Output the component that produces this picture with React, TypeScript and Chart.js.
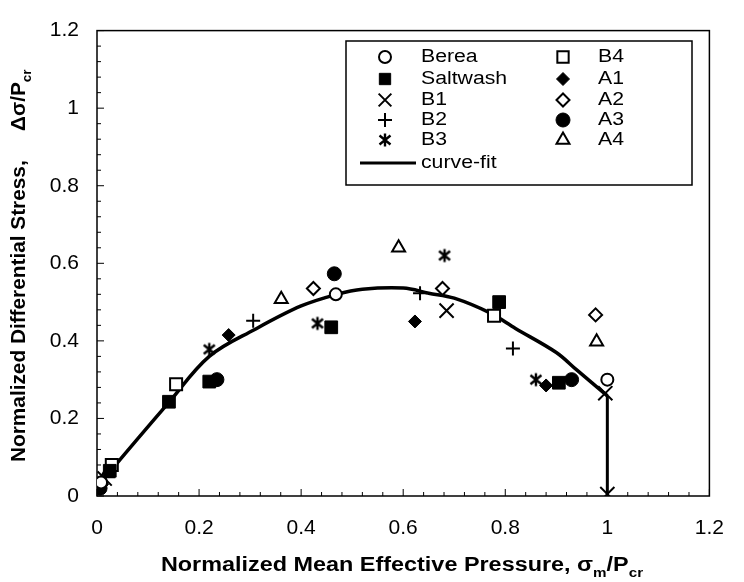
import React, { useEffect, useRef } from 'react';
import { Chart, registerables } from 'chart.js';
import { drawPoint } from 'chart.js/helpers';

Chart.register(...registerables);

type P = { x: number; y: number };

// ---- data ----
const bereaPts: P[] = [{ x: 0.008, y: 0.035 }, { x: 0.468, y: 0.52 }, { x: 1.0, y: 0.30 }];
const saltwashPts: P[] = [{ x: 0.025, y: 0.065 }, { x: 0.141, y: 0.243 }, { x: 0.22, y: 0.295 }, { x: 0.459, y: 0.435 }, { x: 0.788, y: 0.50 }, { x: 0.905, y: 0.292 }];
const b1Pts: P[] = [{ x: 0.015, y: 0.045 }, { x: 0.685, y: 0.478 }, { x: 0.996, y: 0.265 }, { x: 1.0, y: 0.005 }];
const b2Pts: P[] = [{ x: 0.306, y: 0.452 }, { x: 0.633, y: 0.523 }, { x: 0.815, y: 0.38 }];
const b3Pts: P[] = [{ x: 0.005, y: 0.025 }, { x: 0.22, y: 0.378 }, { x: 0.432, y: 0.445 }, { x: 0.681, y: 0.62 }, { x: 0.86, y: 0.30 }];
const b4Pts: P[] = [{ x: 0.029, y: 0.08 }, { x: 0.155, y: 0.288 }, { x: 0.778, y: 0.465 }];
const a1Pts: P[] = [{ x: 0.01, y: 0.03 }, { x: 0.258, y: 0.415 }, { x: 0.623, y: 0.45 }, { x: 0.88, y: 0.285 }];
const a2Pts: P[] = [{ x: 0.424, y: 0.535 }, { x: 0.677, y: 0.535 }, { x: 0.977, y: 0.467 }];
const a3Pts: P[] = [{ x: 0.006, y: 0.02 }, { x: 0.235, y: 0.30 }, { x: 0.465, y: 0.573 }, { x: 0.93, y: 0.30 }];
const a4Pts: P[] = [{ x: 0.02, y: 0.058 }, { x: 0.361, y: 0.507 }, { x: 0.591, y: 0.64 }, { x: 0.979, y: 0.398 }];
const curveFitPts: P[] = [
  { x: 0.0, y: 0.02 }, { x: 0.03, y: 0.07 }, { x: 0.14, y: 0.24 }, { x: 0.22, y: 0.36 },
  { x: 0.31, y: 0.43 }, { x: 0.40, y: 0.49 }, { x: 0.47, y: 0.52 }, { x: 0.52, y: 0.533 },
  { x: 0.60, y: 0.536 }, { x: 0.65, y: 0.523 }, { x: 0.70, y: 0.51 }, { x: 0.77, y: 0.472 },
  { x: 0.82, y: 0.432 }, { x: 0.90, y: 0.37 }, { x: 0.94, y: 0.325 }, { x: 1.0, y: 0.258 },
];
const curveDropPts: P[] = [{ x: 1.0, y: 0.258 }, { x: 1.0, y: 0.0 }];

const xTickLabels = ['0', '0.2', '0.4', '0.6', '0.8', '1', '1.2'];
const yTickLabels = ['0', '0.2', '0.4', '0.6', '0.8', '1', '1.2'];

const FONT = '"Liberation Sans", Arial, Helvetica, sans-serif';

function makeAsterisk(): HTMLCanvasElement {
  const c = document.createElement('canvas');
  c.width = 16;
  c.height = 16;
  const g = c.getContext('2d')!;
  g.strokeStyle = '#000';
  g.lineWidth = 2.4;
  g.beginPath();
  g.moveTo(8, 1.5); g.lineTo(8, 14.5);
  g.moveTo(2.5, 3.5); g.lineTo(13.5, 12.5);
  g.moveTo(13.5, 3.5); g.lineTo(2.5, 12.5);
  g.stroke();
  return c;
}

type Sty = { style: any; radius: number; fill: string; bw: number };

export default function App() {
  const ref = useRef<HTMLCanvasElement | null>(null);

  useEffect(() => {
    const asterisk = makeAsterisk();
    const styles: Record<string, Sty> = {
      Berea: { style: 'circle', radius: 6, fill: '#fff', bw: 2 },
      Saltwash: { style: 'rect', radius: 9, fill: '#000', bw: 1 },
      B1: { style: 'crossRot', radius: 10, fill: '#000', bw: 2 },
      B2: { style: 'cross', radius: 7, fill: '#000', bw: 2 },
      B3: { style: asterisk, radius: 7, fill: '#000', bw: 2 },
      B4: { style: 'rect', radius: 8.5, fill: '#fff', bw: 2 },
      A1: { style: 'rectRot', radius: 6.5, fill: '#000', bw: 1 },
      A2: { style: 'rectRot', radius: 6.5, fill: '#fff', bw: 2 },
      A3: { style: 'circle', radius: 7, fill: '#000', bw: 1 },
      A4: { style: 'triangle', radius: 7.5, fill: '#fff', bw: 2 },
    };
    const series: [string, P[]][] = [
      ['Berea', bereaPts], ['Saltwash', saltwashPts], ['B1', b1Pts], ['B2', b2Pts], ['B3', b3Pts],
      ['B4', b4Pts], ['A1', a1Pts], ['A2', a2Pts], ['A3', a3Pts], ['A4', a4Pts],
    ];

    const datasets: any[] = series.map(([name, pts], i) => ({
      type: 'scatter',
      label: name,
      data: pts,
      pointStyle: styles[name].style,
      pointRadius: styles[name].radius,
      pointBackgroundColor: styles[name].fill,
      pointBorderColor: '#000',
      pointBorderWidth: styles[name].bw,
      showLine: false,
      order: i + 1,
    }));
    datasets.push({
      type: 'line', label: 'curve-fit', data: curveFitPts, borderColor: '#000', borderWidth: 3.5,
      pointRadius: 0, tension: 0.35, fill: false, order: 100,
    });
    datasets.push({
      type: 'line', label: 'curve-fit-drop', data: curveDropPts, borderColor: '#000', borderWidth: 3,
      pointRadius: 0, tension: 0, fill: false, order: 101,
    });

    const drawSubText = (ctx: CanvasRenderingContext2D, parts: [string, boolean][], x: number, y: number, size: number, bold: boolean, align: 'center' | 'left', sx: number) => {
      const main = `${bold ? 'bold ' : ''}${size}px ${FONT}`;
      const sub = `${bold ? 'bold ' : ''}${Math.round(size * 0.65)}px ${FONT}`;
      let total = 0;
      for (const [t, s] of parts) { ctx.font = s ? sub : main; total += ctx.measureText(t).width * sx; }
      let cx = align === 'center' ? x - total / 2 : x;
      ctx.textBaseline = 'alphabetic';
      ctx.textAlign = 'left';
      for (const [t, s] of parts) {
        ctx.font = s ? sub : main;
        ctx.save();
        ctx.translate(cx, y + (s ? size * 0.28 : 0));
        ctx.scale(sx, 1);
        ctx.fillText(t, 0, 0);
        ctx.restore();
        cx += ctx.measureText(t).width * sx;
      }
    };

    const legendText = (ctx: CanvasRenderingContext2D, t: string, x: number, y: number) => {
      ctx.save();
      ctx.fillStyle = '#000';
      ctx.font = `18px ${FONT}`;
      ctx.textAlign = 'left';
      ctx.textBaseline = 'middle';
      ctx.translate(x, y);
      ctx.scale(1.18, 1);
      ctx.fillText(t, 0, 0);
      ctx.restore();
    };

    const decor = {
      id: 'decor',
      beforeDatasetsDraw(chart: any) {
        const { ctx, chartArea: a, scales } = chart;
        ctx.save();
        ctx.strokeStyle = '#000';
        ctx.lineWidth = 1.5;
        ctx.strokeRect(a.left, a.top, a.right - a.left, a.bottom - a.top);
        ctx.lineWidth = 1;
        ctx.beginPath();
        for (let i = 0; i <= 30; i++) {
          const v = i * 0.04;
          const len = i % 5 === 0 ? 7 : 4;
          const px = scales.x.getPixelForValue(v);
          ctx.moveTo(px, a.bottom); ctx.lineTo(px, a.bottom - len);
          const py = scales.y.getPixelForValue(v);
          ctx.moveTo(a.left, py); ctx.lineTo(a.left + len, py);
        }
        ctx.stroke();
        ctx.restore();
      },
      afterDraw(chart: any) {
        const { ctx } = chart;
        ctx.save();
        ctx.fillStyle = '#000';
        // x title
        drawSubText(ctx, [['Normalized Mean Effective Pressure, σ', false], ['m', true], ['/P', false], ['cr', true]], 402, 571, 20, true, 'center', 1.17);
        // y title
        ctx.save();
        ctx.translate(25, 462);
        ctx.rotate(-Math.PI / 2);
        drawSubText(ctx, [['Normalized Differential Stress,', false]], 0, 0, 20, true, 'left', 1.04);
        ctx.restore();
        ctx.save();
        ctx.translate(25, 131);
        ctx.rotate(-Math.PI / 2);
        drawSubText(ctx, [['Δσ/P', false], ['cr', true]], 0, 0, 20, true, 'left', 1.04);
        ctx.restore();

        // legend
        ctx.strokeStyle = '#000';
        ctx.lineWidth = 1.5;
        ctx.strokeRect(346, 41, 346, 144);
        const rows = [57, 79, 100, 120, 140, 163];
        const col1 = ['Berea', 'Saltwash', 'B1', 'B2', 'B3'];
        const col2 = ['B4', 'A1', 'A2', 'A3', 'A4'];
        const drawEntry = (name: string, mx: number, tx: number, y: number) => {
          const s = styles[name];
          ctx.fillStyle = s.fill;
          ctx.strokeStyle = '#000';
          ctx.lineWidth = s.bw;
          const r = Math.min(s.radius, 8);
          drawPoint(ctx, { pointStyle: s.style, radius: s.style === 'crossRot' ? 9 : r, rotation: 0, borderWidth: s.bw } as any, mx, y);
          legendText(ctx, name, tx, y);
        };
        col1.forEach((n, i) => drawEntry(n, 385, 421, rows[i]));
        col2.forEach((n, i) => drawEntry(n, 563, 598, rows[i]));
        ctx.strokeStyle = '#000';
        ctx.lineWidth = 3;
        ctx.beginPath();
        ctx.moveTo(360, rows[5]); ctx.lineTo(416, rows[5]);
        ctx.stroke();
        legendText(ctx, 'curve-fit', 421, rows[5]);
        ctx.restore();
      },
    };

    const chart = new Chart(ref.current!, {
      type: 'scatter',
      data: { datasets },
      options: {
        animation: false,
        responsive: false,
        devicePixelRatio: 1,
        layout: { padding: { left: 0, right: 20, top: 16, bottom: 0 } },
        plugins: { legend: { display: false }, tooltip: { enabled: false } },
        scales: {
          x: {
            type: 'linear', min: 0, max: 1.2,
            grid: { display: false, drawTicks: false },
            border: { display: false },
            afterFit: (s: any) => { s.height = 86; },
            ticks: {
              stepSize: 0.2, autoSkip: false, maxRotation: 0, padding: 20, color: '#000',
              font: { family: FONT, size: 21 },
              callback: (_v: any, i: number) => xTickLabels[i] ?? '',
            },
          },
          y: {
            type: 'linear', min: 0, max: 1.2,
            grid: { display: false, drawTicks: false },
            border: { display: false },
            afterFit: (s: any) => { s.width = 97; },
            ticks: {
              stepSize: 0.2, autoSkip: false, padding: 18, color: '#000',
              font: { family: FONT, size: 21 },
              callback: (_v: any, i: number) => yTickLabels[i] ?? '',
            },
          },
        },
      } as any,
      plugins: [decor],
    });
    return () => chart.destroy();
  }, []);

  return (
    <div style={{ position: 'fixed', left: 0, top: 0, width: 744, height: 582, background: '#fff' }}>
      <canvas ref={ref} width={744} height={582} style={{ display: 'block', width: 744, height: 582 }} />
    </div>
  );
}
